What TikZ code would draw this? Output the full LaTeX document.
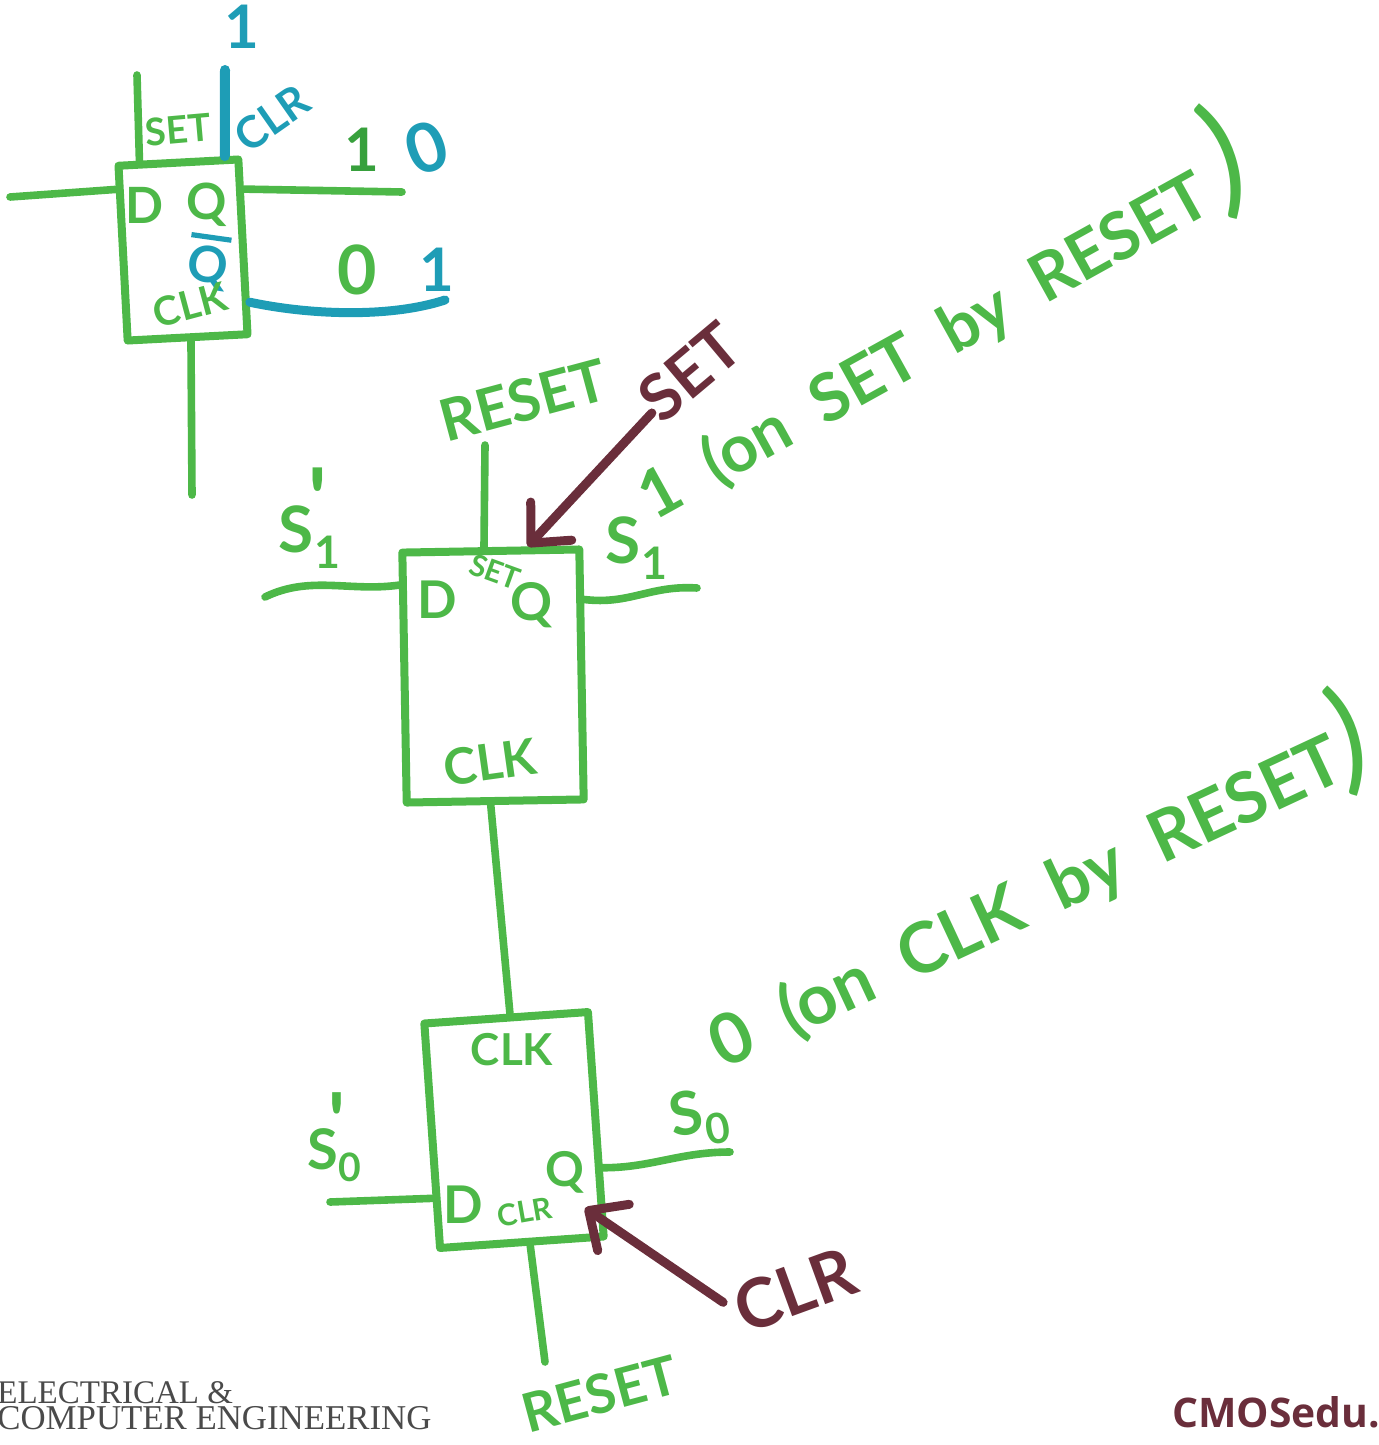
\documentclass[tikz,border=0pt]{standalone}
\usepackage{fontspec}
\newfontfamily\penfont{Lato}
\newfontfamily\logofont{Liberation Serif}
\newfontfamily\brandfont{Open Sans}
\usetikzlibrary{arrows.meta}
\definecolor{penGreen}{HTML}{4DB848}
\definecolor{penDark}{HTML}{37A03C}
\definecolor{penTeal}{HTML}{1E9DB6}
\definecolor{penMaroon}{HTML}{6A2E3B}
\definecolor{logoGray}{HTML}{4A4A4A}
\newcommand{\barQ}{\vbox{\hrule height 2.6pt\kern 3pt\hbox{Q}}}
\newcommand{\wideWords}{\spaceskip=.5em\relax}

\begin{document}
\begin{tikzpicture}
[x=0.5pt,y=-0.5pt,
  boxDecorate/.style={shape=rectangle,draw=penGreen,line width=4pt,inner sep=0pt,line join=round},%
  wireDecorate/.style={draw=penGreen,line width=3.8pt,line cap=round},%
  arrowDecorate/.style={draw=penMaroon,line width=4.5pt,line cap=round,line join=round,
    -{Straight Barb[length=15pt,width=28pt,line width=4.5pt,round]}},%
  penText/.style={font=\fontsize{#1}{#1}\selectfont\penfont\bfseries,inner sep=0pt}]
\useasboundingbox (0,0) rectangle (1379,1445);
%% boxes
\foreach \nodename/\x/\y/\w/\h/\rot in {boxA/183/250/60/87.5/3, boxB/493/676/88.5/125/1, boxC/514/1130/82/112.5/4}
{
  \node (\nodename) at (\x,\y) [boxDecorate,minimum width=\w pt,minimum height=\h pt,rotate=\rot] {};
}
%% free ends of the wires
\foreach \nodename/\x/\y in {dInA/10/197, setA/137/75, clrA/225/70, qOutA/402/192, qbOutA/445/300, clkA/192/495,
  resetB/485/445, dInB/265/597, qOutB/697/588, dInC/330/1202, qOutC/730/1152, resetC/545/1362, clrTip/585/1208}
{
  \coordinate (\nodename) at (\x,\y);
}
%% labels
\foreach \nodename/\x/\y/\rot/\size/\col/\txt in {
  lblSetA/178/130/5/19/penGreen/SET, lblClrA/272/118/35/22/penTeal/CLR,
  lblDA/145/205/0/25/penGreen/D, lblQA/207/205/0/25/penGreen/Q,
  lblQbA/208/262/-8/25/penTeal/\barQ,
  lblClkA/190/305/15/20/penGreen/CLK,
  topOneA/242/27/0/30/penTeal/1, oneA/362/150/0/30/penDark/1, zeroA/427/148/20/34/penTeal/0,
  zeroB/357/270/0/34/penGreen/0, oneB/437/270/0/30/penTeal/1,
  lblResetB/523/400/15/29/penGreen/RESET, lblSetB/690/372/40/32/penMaroon/SET,
  lblSLeft/310/537/0/32/penGreen/{S\textsubscript{1}}, primeSLeft/318/500/0/44/penGreen/{'},
  lblSRight/637/548/0/32/penGreen/{S\textsubscript{1}},
  lblDB/437/600/0/26/penGreen/D, lblSmallSet/495/572/-20/15/penGreen/SET, lblQB/532/605/0/26/penGreen/Q,
  lblClkB/490/762/8/25/penGreen/CLK,
  lblValueB/925/348/29/33/penGreen/{\wideWords 1 (on SET by RESET},
  lblParenB/1224/160/18/66/penGreen/{\mdseries )},
  lblValueC/1027/904/25/35/penGreen/{\wideWords 0 (on CLK by RESET},
  lblParenC/1348/740/15/62/penGreen/{\mdseries )},
  lblClkC/512/1050/0/22/penGreen/CLK,
  lblSLeftC/335/1155/0/28/penGreen/{S\textsubscript{0}}, primeSLeftC/337/1122/0/40/penGreen/{'},
  lblSRightC/700/1118/10/30/penGreen/{S\textsubscript{0}},
  lblDC/463/1205/0/26/penGreen/D, lblSmallClr/525/1212/10/15/penGreen/CLR, lblQC/565/1172/0/24/penGreen/Q,
  lblResetC/600/1394/15/27/penGreen/RESET, lblClrC/795/1290/20/34/penMaroon/CLR}
{
  \node (\nodename) at (\x,\y) [penText=\size,text=\col,rotate=\rot] {\txt};
}
%% straight wires
\path
\foreach \startnode/\endnode in {dInA/boxA.135, setA/boxA.113, qOutA/boxA.42, clkA/boxA.-88,
  resetB/boxB.93, boxB.-92/boxC.88, dInC/boxC.216, resetC/boxC.-86}
{
  (\startnode) edge[wireDecorate] (\endnode)
};
\draw[wireDecorate,draw=penTeal,line width=5pt] (clrA) -- (boxA.63);
%% bent wires
\draw[wireDecorate,draw=penTeal,line width=4.5pt] (boxA.-41) .. controls (310,315) and (390,318) .. (qbOutA);
\draw[wireDecorate] (dInB) .. controls (310,575) and (350,592) .. (boxB.135);
\draw[wireDecorate] (boxB.39) .. controls (630,605) and (650,585) .. (qOutB);
\draw[wireDecorate] (boxC.-27) .. controls (650,1168) and (680,1152) .. (qOutC);
%% pointers
\draw[arrowDecorate] (lblSetB) -- (boxB.74);
\draw[arrowDecorate,shorten <=8pt] (lblClrC.west) -- (clrTip);
%% footer
\node (logoTop) at (-3,1393) [anchor=west,inner sep=0pt,text=logoGray,font=\fontsize{16.5}{16.5}\selectfont\logofont] {ELECTRICAL \&};
\node (logoBottom) at (-3,1418) [anchor=west,inner sep=0pt,text=logoGray,font=\fontsize{17.4}{17.4}\selectfont\logofont] {COMPUTER ENGINEERING};
\node (brand) at (1172,1412) [anchor=west,inner sep=0pt,text=penMaroon,font=\fontsize{20.4}{20.4}\selectfont\brandfont\bfseries] {CMOSedu.};
\end{tikzpicture}
\end{document}
